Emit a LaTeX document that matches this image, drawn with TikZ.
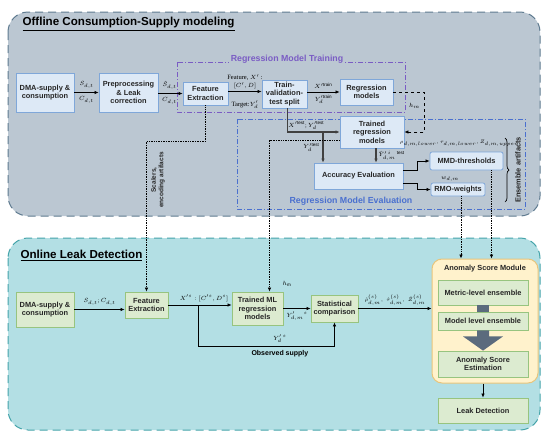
\documentclass[tikz,border=0pt]{standalone}
\usepackage{amsmath,amssymb}
\usepackage{fontspec}
\setmainfont{Liberation Sans}
\newfontfamily\serifl{Liberation Serif}
\usepackage{tikz}
\usetikzlibrary{arrows.meta, positioning, calc, decorations.pathreplacing}

\definecolor{offbg}{HTML}{BBC7D2}
\definecolor{offedge}{HTML}{5F7B90}
\definecolor{onbg}{HTML}{B3DFE4}
\definecolor{onedge}{HTML}{45A4AA}
\definecolor{bluefill}{HTML}{DDE9F6}
\definecolor{blueedge}{HTML}{7FA7D9}
\definecolor{greenfill}{HTML}{DCEBD0}
\definecolor{greenedge}{HTML}{97C47F}
\definecolor{yellowfill}{HTML}{FFF2CC}
\definecolor{yellowedge}{HTML}{E8C57C}
\definecolor{trainc}{HTML}{7A5CC4}
\definecolor{evalc}{HTML}{4A70CF}
\definecolor{slate}{HTML}{5B6B7D}

\tikzset{
  box/.style={draw, line width=0.8pt, align=center, inner sep=1pt,
    font=\fontsize{7.4}{8.4}\selectfont\bfseries, text=black!85},
  offbox/.style={box, draw=blueedge, fill=bluefill},
  onbox/.style={box, draw=greenedge, fill=greenfill},
  arr/.style={-{Latex[length=4pt,width=3.5pt]}, line width=0.7pt},
  thkarr/.style={arr, line width=1.1pt, black!75},
  dotarr/.style={-{Latex[length=4pt,width=3.5pt]}, densely dotted, line width=0.7pt},
  dasharr/.style={-{Latex[length=4pt,width=3.5pt]}, dashed, line width=0.7pt},
  lbl/.style={font=\fontsize{6.5}{7.5}\selectfont, inner sep=1pt},
  regframe/.style={dash pattern=on 5pt off 2pt on 1pt off 2pt, line width=0.8pt},
  bgframe/.style={dash pattern=on 8pt off 5pt, line width=1pt, rounded corners=20pt},
  heading/.style={font=\fontsize{11.6}{13}\selectfont\bfseries, anchor=west},
}

\begin{document}
\begin{tikzpicture}[x=1pt, y=-1pt]
  \fill[white] (0,0) rectangle (550,437);
  \useasboundingbox (0,0) rectangle (550,437);

  % backgrounds
  \draw[bgframe, draw=offedge, fill=offbg] (8,12) rectangle (540,216);
  \draw[bgframe, draw=onedge, fill=onbg] (8,238) rectangle (540,430);
  \node[heading] (offtitle) at (19,24) {\underline{Offline Consumption-Supply modeling}};
  \node[heading] (ontitle) at (17,256) {\underline{Online Leak Detection}};

  % regression frames
  \draw[regframe, draw=trainc] (177,62) rectangle (405,112);
  \node[font=\fontsize{8.8}{10}\selectfont\bfseries, text=trainc, fill=offbg, inner sep=2pt] (traintitle) at (287,59) {Regression Model Training};
  \draw[regframe, draw=evalc] (237,119) rectangle (525,209);
  \node[font=\fontsize{8.8}{10}\selectfont\bfseries, text=evalc] (evaltitle) at (351,201) {Regression Model Evaluation};

  % offline nodes
  \node[offbox, minimum width=58, minimum height=39] (dmaoff) at (45,92.5) {DMA-supply \&\\consumption};
  \node[offbox, minimum width=59, minimum height=39] (prep) at (128.5,92.5) {Preprocessing\\\& Leak\\correction};
  \node[offbox, minimum width=45, minimum height=23] (featoff) at (205.5,93.5) {Feature\\Extraction};
  \node[offbox, minimum width=45, minimum height=28] (split) at (284.5,94) {Train-\\validation-\\test split};
  \node[offbox, minimum width=53, minimum height=26] (regmod) at (366.5,92) {Regression\\models};
  \node[offbox, minimum width=64, minimum height=32] (trained) at (372,132) {Trained\\regression\\models};
  \node[offbox, minimum width=89, minimum height=26] (acc) at (358.5,176) {Accuracy Evaluation};
  \node[offbox, rounded corners=2pt, minimum width=73, minimum height=18] (mmd) at (466.5,161) {MMD-thresholds};
  \node[offbox, rounded corners=2pt, minimum width=54, minimum height=13] (rmo) at (458,189.5) {RMO-weights};

  % offline arrows
  \draw[arr] (dmaoff) -- (prep)
    node[lbl, midway, above=3pt] {$S_{d,t}$} node[lbl, midway, below=3pt] {$C_{d,t}$};
  \draw[arr] (prep.east |- featoff) -- (featoff.west)
    node[lbl, midway, above=3pt, xshift=-1pt] {$\hat{S}_{d,t}$} node[lbl, midway, below=3pt, xshift=-1pt] {$C_{d,t}$};
  \draw[arr] ([yshift=2pt]featoff.east) -- ([yshift=2pt]featoff.east -| split.west)
    node[lbl, midway, above=1pt, align=center, font=\fontsize{6.5}{8}\selectfont\serifl] {Feature, $X'$ :\\$[C',D]$}
    node[lbl, midway, below=8pt, font=\fontsize{6.5}{8}\selectfont\serifl] {Target:$Y'_d$};
  \draw[arr] (split.east |- regmod) -- (regmod.west)
    node[lbl, midway, above=2pt] {$X'^{\mathrm{train}}$} node[lbl, midway, below=2pt] {$Y_d'^{\mathrm{train}}$};
  \draw[dasharr] (regmod.east) -- ++(31,0) |- (trained.east)
    node[lbl, pos=0.17, left=3pt] {$h_m$};
  \draw[thkarr] ([xshift=3pt]split.south) |- (trained.west)
    node[lbl, pos=0.68, above=1pt, text=black] {$X'^{\mathrm{test}};Y_d'^{\mathrm{test}}$};
  \coordinate (brtest) at (323,132);
  \draw[thkarr] (brtest) -- (brtest |- acc.north)
    node[lbl, midway, left=2pt, text=black] {$Y_d'^{\mathrm{test}}$};
  \draw[thkarr] ([xshift=4pt]trained.south) -- ([xshift=4pt]trained.south |- acc.north)
    node[lbl, midway, right=1pt, text=black] {$\hat{Y}'^{\,i}_{d,m}\,{}^{\mathrm{test}}$};
  \draw[arr] ([yshift=6pt]acc.east) -- ++(14,0) |- (mmd.west);
  \draw[arr] ([yshift=-7pt]acc.east) -- ++(14,0) |- (rmo.west);
  \node[lbl, font=\fontsize{4.6}{6}\selectfont] (mmdlbl) at (459,143) {$\rho_{d,m,lower},\tau_{d,m,lower},Z_{d,m,upper}$};
  \node[lbl] (rmolbl) at (450,179) {$w_{d,m}$};
  \draw[line width=0.7pt, decorate, decoration={brace, amplitude=4pt}] (505,138) -- (505,202);
  \node[box, draw=none, rotate=90] (enslbl) at (518,170) {Ensemble artifacts};

  % online nodes
  \node[onbox, minimum width=58, minimum height=35] (dmaon) at (45,309.5) {DMA-supply \&\\consumption};
  \node[onbox, minimum width=43, minimum height=26] (feaon) at (146.5,305) {Feature\\Extraction};
  \node[onbox, minimum width=51, minimum height=33] (tmlon) at (257.5,308.5) {Trained ML\\regression\\models};
  \node[onbox, minimum width=47, minimum height=27] (statc) at (334.5,308.5) {Statistical\\comparison};
  \node[draw=yellowedge, fill=yellowfill, line width=1pt, rounded corners=10pt,
        minimum width=106, minimum height=124] (asm) at (485,321) {};
  \node[box, draw=none] (asmtitle) at (485,269) {Anomaly Score Module};
  \node[onbox, minimum width=90, minimum height=25] (metric) at (483,292.5) {Metric-level ensemble};
  \node[onbox, minimum width=90, minimum height=18] (model) at (483,321) {Model level ensemble};
  \node[onbox, minimum width=90, minimum height=26] (est) at (483,364) {Anomaly Score\\Estimation};
  \node[onbox, minimum width=90, minimum height=25] (leak) at (483,410.5) {Leak Detection};
  \fill[slate] ($(metric.south)+(-6,0)$) rectangle ($(model.north)+(6,0)$);
  \fill[slate] ($(model.south)+(-6,0)$) -- ($(model.south)+(6,0)$) -- ($(model.south)+(6,6)$)
    -- ($(model.south)+(20,6)$) -- (est.north) -- ($(model.south)+(-20,6)$) -- ($(model.south)+(-6,6)$) -- cycle;
  \draw[arr] (asm.south -| leak) -- (leak.north);

  % online arrows
  \draw[arr] (dmaon.east) -- (dmaon.east -| feaon.west)
    node[lbl, midway, above=3pt] {$S_{d,t};C_{d,t}$};
  \draw[arr] (feaon.east) -- (feaon.east -| tmlon.west)
    node[lbl, midway, above=2pt, xshift=4pt] {$X'^{s}:[C'^{s},D^{s}]$};
  \coordinate (brobs) at (198,305);
  \draw[arr] (brobs) -- ++(0,41) -| (statc.south)
    node[lbl, pos=0.3, above=2pt] {$Y_d'^{\,s}$}
    node[lbl, pos=0.3, below=3pt, font=\fontsize{7}{8}\selectfont\bfseries] {Observed supply};
  \draw[arr] (tmlon.east |- statc) -- (statc.west)
    node[lbl, midway, below=2pt] {$Y'_{d,m}{}^{s}$};
  \node[lbl] (hmlbl) at (287,284) {$h_{\mathrm{m}}$};
  \draw[arr] (statc.east) -- (statc.east -| asm.west)
    node[lbl, midway, above=2pt, font=\fontsize{5.2}{6}\selectfont] {$\hat{\rho}^{(s)}_{d,m},\;\hat{\tau}^{(s)}_{d,m},\;\hat{Z}^{(s)}_{d,m}$};

  % offline -> online artifacts
  \draw[dotarr] (featoff.south) -- ++(0,36) -| (feaon.north);
  \node[box, draw=none, rotate=90, font=\fontsize{6.5}{7.5}\selectfont\bfseries] (scalerlbl) at (158,180) {Scalers,\\encoding artifacts};
  \draw[dotarr] ([yshift=-8pt]trained.west) -| ([xshift=12pt]tmlon.north);
  \draw[dotarr] ([xshift=3pt]rmo.south) -- ([xshift=3pt]rmo.south |- asm.north);
  \draw[dotarr] ([xshift=25pt]mmd.south) -- ([xshift=25pt]mmd.south |- asm.north);
\end{tikzpicture}
\end{document}
